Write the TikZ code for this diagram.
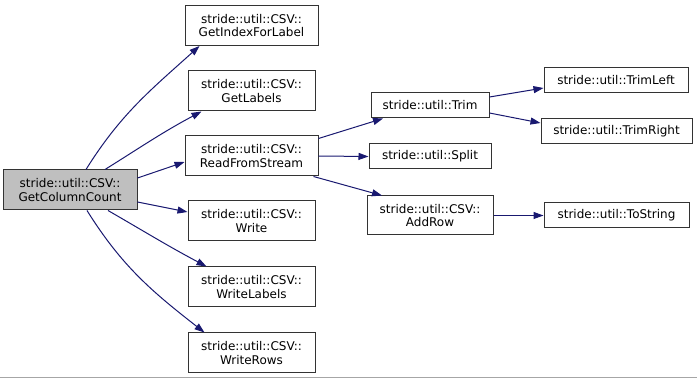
\documentclass[tikz,border=0pt]{standalone}
\usepackage{fontspec}
\setmainfont{DejaVu Sans}
\usetikzlibrary{arrows.meta}
\definecolor{callblue}{HTML}{191970}
\definecolor{rootgray}{HTML}{BFBFBF}
\tikzset{
	fnbox/.style={draw=black!80, line width=1pt, fill=white, align=center, inner sep=0pt,
		minimum width=#1, minimum height=40pt, font=\fontsize{12}{13.7}\selectfont},
	fnline/.style={fnbox=#1, minimum height=25pt},
	call/.style={draw=callblue, line width=1pt, -{Triangle[length=10pt,width=7pt]}}
}

\begin{document}
\begin{tikzpicture}[x=1pt, y=1pt]
			%%%%% START %%%%%
			\useasboundingbox (0, 0) rectangle (697, -379);
			\draw[line width=1.5pt, color=black!35] (0, -377.5) -- (697, -377.5);
			
			\node[fnbox=134pt, fill=rootgray] (cnt) at (70, -190) {stride::util::CSV::\\GetColumnCount};
			
			\node[fnbox=133pt] (idx) at (251.5, -25.5) {stride::util::CSV::\\GetIndexForLabel};
			\node[fnbox=127pt] (lbl) at (251.5, -91) {stride::util::CSV::\\GetLabels};
			\node[fnbox=133pt] (rfs) at (251.5, -156) {stride::util::CSV::\\ReadFromStream};
			\node[fnbox=127pt] (wr) at (251.5, -221) {stride::util::CSV::\\Write};
			\node[fnbox=127pt] (wlbl) at (251.5, -287) {stride::util::CSV::\\WriteLabels};
			\node[fnbox=127pt] (wrows) at (251.5, -353) {stride::util::CSV::\\WriteRows};
			
			\node[fnline=118pt] (trim) at (430, -105.5) {stride::util::Trim};
			\node[fnline=122pt] (split) at (430, -156.5) {stride::util::Split};
			\node[fnbox=126pt, minimum height=39pt] (addrow) at (430, -215.5) {stride::util::CSV::\\AddRow};
			
			\node[fnline=144pt] (tleft) at (616, -80) {stride::util::TrimLeft};
			\node[fnline=151pt] (tright) at (616.5, -131.5) {stride::util::TrimRight};
			\node[fnline=145pt] (tostr) at (616.5, -215.5) {stride::util::ToString};
			
			% calls out of GetColumnCount
			\draw[call] ([xshift=16pt]cnt.north) to[out=58, in=222] ([xshift=-52pt]idx.south);
			\draw[call] ([xshift=35pt]cnt.north) to[out=32, in=208] ([xshift=-50pt]lbl.south);
			\draw[call] ([yshift=12pt]cnt.east) -- ([yshift=-6pt]rfs.west);
			\draw[call] ([yshift=-12pt]cnt.east) -- ([yshift=9pt]wr.west);
			\draw[call] ([xshift=38pt]cnt.south) to[out=-30, in=152] ([xshift=-45pt]wlbl.north);
			\draw[call] ([xshift=17pt]cnt.south) to[out=-58, in=142] ([xshift=-47pt]wrows.north);
			
			% calls out of ReadFromStream
			\draw[call] ([yshift=-3pt]rfs.north east) -- ([xshift=-47pt]trim.south);
			\draw[call] (rfs.east) -- (split.west);
			\draw[call] ([xshift=-5pt]rfs.south east) -- ([xshift=-48pt]addrow.north);
			
			% second level
			\draw[call] ([yshift=8.5pt]trim.east) -- ([yshift=-8pt]tleft.west);
			\draw[call] ([yshift=-7.5pt]trim.east) -- ([yshift=8.5pt]tright.west);
			\draw[call] (addrow.east) -- (tostr.west);
			%%%%% END %%%%%
\end{tikzpicture}
\end{document}
